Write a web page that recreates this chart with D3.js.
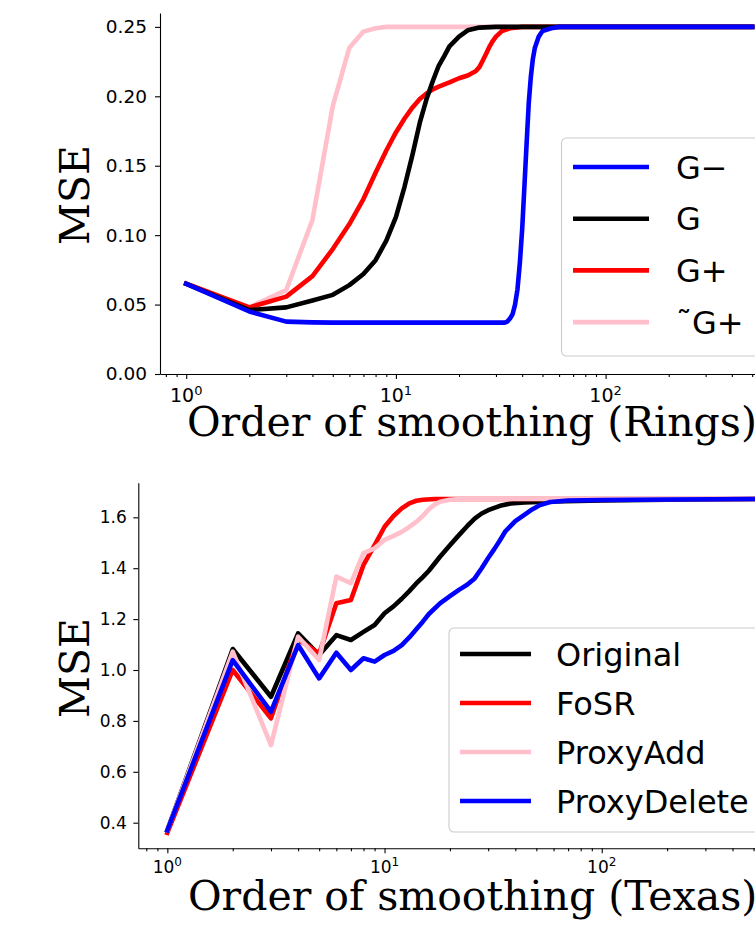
<!DOCTYPE html>
<html>
<head>
<meta charset="utf-8">
<script src="https://cdn.jsdelivr.net/npm/d3@7"></script>
<style>
  body { margin: 0; background: #fff; }
  svg { display: block; }
</style>
</head>
<body>
<svg id="chart" width="755" height="926"></svg>
<script>
// ---- data: Rings (top) ----
const ringsGMinus = [[1, 0.065], [2, 0.045], [3, 0.0377], [4, 0.0372], [5, 0.037], [10, 0.037], [20, 0.037], [33, 0.037],
  [34, 0.0378], [35, 0.040], [36, 0.043], [37, 0.050], [38, 0.061], [39, 0.080], [40, 0.104], [41, 0.135], [42, 0.166],
  [43, 0.195], [44, 0.214], [45, 0.227], [46, 0.235], [48, 0.243], [50, 0.247], [55, 0.249], [60, 0.25], [500, 0.25]]
const ringsG = [[1, 0.065], [2, 0.046], [3, 0.048], [4, 0.053], [5, 0.057], [6, 0.064], [7, 0.072], [8, 0.082], [9, 0.096],
  [10, 0.113], [11, 0.135], [12, 0.158], [13, 0.181], [14, 0.198], [15, 0.211], [16, 0.222], [17, 0.229], [18, 0.236],
  [20, 0.243], [22, 0.2475], [25, 0.2495], [30, 0.25], [500, 0.25]]
const ringsGPlus = [[1, 0.065], [2, 0.048], [3, 0.0557], [4, 0.0705], [5, 0.090], [6, 0.108], [7, 0.126], [8, 0.145],
  [9, 0.161], [10, 0.174], [11, 0.184], [12, 0.192], [13, 0.198], [14, 0.202], [15, 0.205], [16, 0.207], [18, 0.210],
  [20, 0.213], [22, 0.215], [24, 0.218], [25, 0.221], [26, 0.226], [27, 0.231], [28, 0.236], [29, 0.240], [30, 0.243],
  [32, 0.247], [35, 0.249], [40, 0.25], [500, 0.25]]
const ringsGTildePlus = [[1, 0.065], [2, 0.048], [3, 0.0605], [4, 0.111], [5, 0.193], [6, 0.235], [7, 0.2466],
  [8, 0.249], [9, 0.25], [500, 0.25]]

// ---- data: Texas (bottom) ----
const texasOriginal = [[1, 0.37], [2, 1.0825], [3, 0.895], [4, 1.144], [5, 1.059], [6, 1.137], [7, 1.118], [8, 1.15],
  [9, 1.177], [10, 1.223], [11, 1.25], [12, 1.28], [13, 1.31], [14, 1.34], [15, 1.365], [16, 1.39], [18, 1.445],
  [20, 1.49], [22, 1.53], [24, 1.565], [26, 1.595], [28, 1.615], [30, 1.628], [34, 1.645], [38, 1.654], [44, 1.658],
  [60, 1.662], [100, 1.666], [200, 1.669], [500, 1.672]]
const texasFoSR = [[1, 0.36], [2, 1.0], [3, 0.81], [4, 1.12], [5, 1.065], [6, 1.262], [7, 1.275], [8, 1.413], [9, 1.491],
  [10, 1.563], [11, 1.605], [12, 1.635], [13, 1.655], [14, 1.665], [15, 1.669], [17, 1.672], [500, 1.672]]
const texasProxyAdd = [[1, 0.37], [2, 1.072], [3, 0.705], [4, 1.131], [5, 1.039], [6, 1.367], [7, 1.341], [8, 1.459],
  [9, 1.478], [10, 1.511], [11, 1.527], [12, 1.543], [13, 1.562], [14, 1.582], [15, 1.605], [16, 1.632], [17, 1.65],
  [18, 1.661], [20, 1.669], [22, 1.672], [500, 1.672]]
const texasProxyDelete = [[1, 0.37], [2, 1.039], [3, 0.836], [4, 1.098], [5, 0.967], [6, 1.068], [7, 1.0], [8, 1.046],
  [9, 1.033], [10, 1.059], [11, 1.075], [12, 1.098], [13, 1.128], [14, 1.16], [15, 1.19], [16, 1.22], [18, 1.262],
  [20, 1.29], [22, 1.315], [24, 1.335], [26, 1.36], [28, 1.40], [30, 1.44], [32, 1.475], [34, 1.51], [36, 1.545],
  [40, 1.585], [44, 1.61], [48, 1.632], [52, 1.648], [58, 1.66], [70, 1.666], [100, 1.668], [200, 1.67], [500, 1.672]]

const ringsTicks = [0, 0.05, 0.1, 0.15, 0.2, 0.25]
const texasTicks = [0.4, 0.6, 0.8, 1.0, 1.2, 1.4, 1.6]
const decadeTicks = [1, 10, 100]

const LINE_W = 4.6
const SANS = 'DejaVu Sans, sans-serif'
const SERIF = 'DejaVu Serif, serif'

const minorTicks = (lo, hi) => {
  const out = []
  for (let e = -1; e <= 3; e++) {
    for (let m = 2; m <= 9; m++) {
      const v = m * Math.pow(10, e)
      if (v >= lo && v <= hi) out.push(v)
    }
  }
  return out
}

const svg = d3.select('#chart')

const drawPanel = (cfg) => {
  const { x, y, id } = cfg
  const g = svg.append('g')

  g.append('clipPath').attr('id', id + '-clip')
    .append('rect')
    .attr('x', x.range()[0]).attr('y', y.range()[1])
    .attr('width', x.range()[1] - x.range()[0]).attr('height', y.range()[0] - y.range()[1])

  // lines
  const line = d3.line().x((d) => x(d[0])).y((d) => y(d[1]))
  g.append('g').attr('clip-path', `url(#${id}-clip)`)
    .selectAll('path')
    .data(cfg.drawOrder)
    .join('path')
    .attr('d', (s) => line(s.values))
    .attr('fill', 'none')
    .attr('stroke', (s) => s.color)
    .attr('stroke-width', LINE_W)
    .attr('stroke-linejoin', 'round')
    .attr('stroke-linecap', 'square')

  // y axis
  const yAxis = g.append('g')
    .attr('transform', `translate(${x.range()[0]},0)`)
    .call(d3.axisLeft(y).tickValues(cfg.yTicks).tickFormat(cfg.yFormat)
      .tickSize(5).tickPadding(cfg.yPad).tickSizeOuter(0))
  yAxis.selectAll('text').attr('font-family', SANS).attr('font-size', cfg.yFont).attr('fill', '#000')

  // x axis: major + minor ticks
  const x0 = y.range()[0]
  g.append('g')
    .attr('transform', `translate(0,${x0})`)
    .call(d3.axisBottom(x).tickValues(decadeTicks).tickFormat('').tickSize(5).tickSizeOuter(0))
  g.append('g')
    .attr('transform', `translate(0,${x0})`)
    .call(d3.axisBottom(x).tickValues(minorTicks(x.domain()[0], x.domain()[1])).tickFormat('').tickSize(3).tickSizeOuter(0))
    .select('.domain').remove()

  g.selectAll('.domain, .tick line').attr('stroke', '#000').attr('stroke-width', 1.1)

  // decade labels with superscript
  decadeTicks.forEach((v, i) => {
    const t = g.append('text')
      .attr('x', x(v)).attr('y', cfg.xLabelBase)
      .attr('text-anchor', 'middle')
      .attr('font-family', SANS).attr('font-size', cfg.xFont)
    t.append('tspan').text('10')
    t.append('tspan').attr('dy', -cfg.supRaise).attr('font-size', cfg.supFont).text(i)
  })

  // axis titles
  g.append('text')
    .attr('transform', `translate(${cfg.yTitlePos[0]},${cfg.yTitlePos[1]}) rotate(-90)`)
    .attr('text-anchor', 'middle')
    .attr('font-family', SERIF).attr('font-size', cfg.titleFont)
    .text('MSE')
  g.append('text')
    .attr('x', cfg.xTitlePos[0]).attr('y', cfg.xTitlePos[1])
    .attr('font-family', SERIF).attr('font-size', cfg.titleFont)
    .text(cfg.xTitle)

  // legend
  const lg = cfg.legend
  const leg = g.append('g')
  leg.append('rect')
    .attr('x', lg.x).attr('y', lg.y).attr('width', lg.w).attr('height', lg.h)
    .attr('rx', 5).attr('fill', '#fff').attr('fill-opacity', 0.8)
    .attr('stroke', '#cccccc').attr('stroke-width', 1.1)
  cfg.legendOrder.forEach((s, i) => {
    const ry = lg.row0 + i * lg.step
    leg.append('line')
      .attr('x1', lg.lineX1).attr('x2', lg.lineX2).attr('y1', ry).attr('y2', ry)
      .attr('stroke', s.color).attr('stroke-width', LINE_W)
    leg.append('text')
      .attr('x', lg.textX).attr('y', ry + lg.font * 0.36)
      .attr('font-family', SANS).attr('font-size', lg.font)
      .text(s.name)
  })
}

// ---- top panel: Rings ----
const rings = {
  gMinus: { name: 'G\u2212', color: '#0000ff', values: ringsGMinus },
  g: { name: 'G', color: '#000000', values: ringsG },
  gPlus: { name: 'G+', color: '#ff0000', values: ringsGPlus },
  gTilde: { name: '\u02DCG+', color: '#ffc0cb', values: ringsGTildePlus },
}

drawPanel({
  id: 'rings',
  x: d3.scaleLog().domain([0.75, 1000]).range([160, 160 + 209.7 * Math.log10(1000 / 0.75)]),
  y: d3.scaleLinear().domain([0, 0.26]).range([374, 13]),
  drawOrder: [rings.gTilde, rings.gPlus, rings.g, rings.gMinus],
  legendOrder: [rings.gMinus, rings.g, rings.gPlus, rings.gTilde],
  yTicks: ringsTicks,
  yFormat: d3.format('.2f'),
  yPad: 8,
  yFont: 18.5,
  xFont: 19,
  supFont: 13,
  supRaise: 7,
  xLabelBase: 402,
  titleFont: 41,
  yTitlePos: [89, 195],
  xTitlePos: [187, 436],
  xTitle: 'Order of smoothing (Rings)',
  legend: { x: 561.5, y: 138, w: 210, h: 218, row0: 167, step: 51.7, lineX1: 573, lineX2: 649, textX: 676, font: 32 },
})

// ---- bottom panel: Texas ----
const texas = {
  original: { name: 'Original', color: '#000000', values: texasOriginal },
  fosr: { name: 'FoSR', color: '#ff0000', values: texasFoSR },
  add: { name: 'ProxyAdd', color: '#ffc0cb', values: texasProxyAdd },
  del: { name: 'ProxyDelete', color: '#0000ff', values: texasProxyDelete },
}

drawPanel({
  id: 'texas',
  x: d3.scaleLog().domain([0.735, 1000]).range([138.3, 138.3 + 217.2 * Math.log10(1000 / 0.735)]),
  y: d3.scaleLinear().domain([0.2994, 1.736]).range([848.3, 482.7]),
  drawOrder: [texas.original, texas.fosr, texas.add, texas.del],
  legendOrder: [texas.original, texas.fosr, texas.add, texas.del],
  yTicks: texasTicks,
  yFormat: d3.format('.1f'),
  yPad: 6.6,
  yFont: 17,
  xFont: 17,
  supFont: 12,
  supRaise: 7,
  xLabelBase: 873,
  titleFont: 41,
  yTitlePos: [89, 668],
  xTitlePos: [188, 910],
  xTitle: 'Order of smoothing (Texas)',
  legend: { x: 449, y: 628, w: 320, h: 204, row0: 654, step: 49, lineX1: 460, lineX2: 531, textX: 556, font: 32 },
})
</script>
</body>
</html>
